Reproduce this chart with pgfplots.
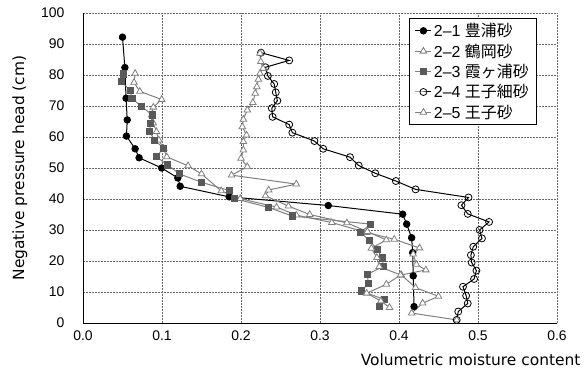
\documentclass[border=0pt]{standalone}
\usepackage{fontspec}
\setmainfont{Liberation Sans}
\newfontfamily\jp{Noto Sans CJK JP}
\newfontfamily\dv{DejaVu Sans}
\usepackage{pgfplots}
\pgfplotsset{compat=1.18}
\definecolor{sqgray}{HTML}{595959}
\definecolor{lngray}{HTML}{808080}
\begin{document}
\begin{tikzpicture}
\begin{axis}[
  scale only axis, width=474bp, height=310bp,
  xmin=0, xmax=0.6, ymin=0, ymax=100,
  xtick={0,0.1,0.2,0.3,0.4,0.5,0.6},
  ytick={0,10,20,30,40,50,60,70,80,90,100},
  axis lines*=left,
  axis line style={-, black, line width=1bp},
  major tick length=0pt,
  grid=major,
  major grid style={gray!80!black, line width=0.6bp, dash pattern=on 2bp off 1bp},
  /pgf/number format/assume math mode=true,
  tick label style={font=\fontsize{14}{16}\selectfont},
  x tick label style={/pgf/number format/fixed, /pgf/number format/fixed zerofill, /pgf/number format/precision=1, yshift=-4bp},
  y tick label style={xshift=-15bp},
  xlabel={Volumetric moisture content},
  ylabel={Negative pressure head (cm)},
  label style={font=\dv\fontsize{15.5}{17}\selectfont},
  xlabel style={at={(axis description cs:1.057,-0.117)}, anchor=east},
  ylabel style={at={(axis description cs:-0.133,0.5)}, anchor=center},
  legend style={at={(axis description cs:0.958,0.984)}, anchor=north east,
    draw=black, line width=0.8bp, fill=white,
    font=\fontsize{16}{19}\selectfont, row sep=1.5bp,
    inner xsep=6bp, inner ysep=3bp},
  legend cell align=left,
  legend image code/.code={\draw[mark repeat=2,mark phase=2] plot coordinates {(0bp,0bp)(8bp,0bp)(16bp,0bp)};},
]
% 2-1
\addplot[black, line width=1bp, mark=*, mark size=3.2bp, mark options={fill=black}] coordinates {
(0.050,92.2)(0.053,82.4)(0.0545,72.5)(0.056,65.5)(0.055,60.3)(0.066,56.2)(0.071,53.3)(0.0996,50.0)(0.12,46.8)(0.123,44.1)(0.185,40.7)(0.3105,37.9)(0.4046,35.1)(0.4097,31.9)(0.416,27.5)(0.4173,22.7)(0.418,15.2)(0.419,5.3)};
\addlegendentry{2--1 {\jp 豊浦砂}}
% 2-2
\addplot[lngray, line width=1bp, mark=triangle*, mark size=3.8bp, mark options={fill=white, draw=lngray, line width=0.8bp}] coordinates {
(0.066,80.5)(0.0646,77.6)(0.072,74.7)(0.0996,72.1)(0.089,69.6)(0.087,67.1)(0.089,64.5)(0.093,61.7)(0.096,59.0)(0.102,56.3)(0.106,53.6)(0.133,50.7)(0.150,48.1)(0.175,42.6)(0.199,40.1)(0.245,37.4)(0.270,34.8)(0.315,32.4)(0.359,29.2)(0.394,27.0)(0.426,24.2)(0.418,22.2)(0.422,18.9)(0.434,17.1)(0.403,15.5)(0.421,11.4)(0.45,8.6)(0.43,6.4)(0.416,3.2)(0.473,1.0)};
\addlegendentry{2--2 {\jp 鶴岡砂}}
% 2-3
\addplot[lngray, line width=1bp, mark=square*, mark size=3.1bp, mark options={fill=sqgray, draw=sqgray}] coordinates {
(0.051,80.3)(0.049,77.8)(0.060,74.9)(0.062,72.5)(0.074,69.8)(0.088,67.1)(0.0857,64.4)(0.084,61.7)(0.091,59.0)(0.1017,56.4)(0.093,53.6)(0.107,51.0)(0.122,48.1)(0.150,45.4)(0.185,42.7)(0.192,40.1)(0.235,37.3)(0.265,34.5)(0.364,31.9)(0.351,29.2)(0.3625,26.7)(0.3725,23.7)(0.379,21.0)(0.38,18.3)(0.36,15.7)(0.361,12.8)(0.353,10.3)(0.382,7.5)(0.375,5.2)};
\addlegendentry{2--3 {\jp 霞ヶ浦砂}}
% 2-4
\addplot[black, line width=1bp, mark=o, mark size=3.5bp, mark options={fill=white, draw=black, line width=0.8bp}] coordinates {
(0.2253,87.2)(0.261,84.7)(0.231,82.5)(0.234,79.7)(0.242,77.1)(0.244,74.4)(0.246,71.7)(0.239,69.3)(0.240,66.5)(0.261,64.0)(0.265,61.4)(0.293,58.7)(0.304,56.2)(0.338,53.5)(0.349,50.8)(0.37,48.3)(0.396,45.8)(0.421,43.1)(0.488,40.5)(0.479,38.0)(0.487,35.2)(0.514,32.6)(0.502,30.0)(0.505,27.3)(0.494,24.6)(0.491,21.9)(0.492,19.5)(0.498,16.9)(0.495,14.2)(0.481,11.7)(0.485,8.8)(0.487,6.3)(0.475,3.7)(0.473,1.0)};
\addlegendentry{2--4 {\jp 王子細砂}}
% 2-5
\addplot[lngray, line width=1bp, mark=triangle*, mark size=3.8bp, mark options={fill=white, draw=lngray, line width=0.8bp}] coordinates {
(0.224,87.0)(0.225,84.3)(0.228,82.1)(0.224,80.5)(0.222,78.6)(0.220,76.2)(0.218,74.1)(0.215,71.1)(0.208,68.7)(0.203,65.7)(0.2017,63.3)(0.207,60.6)(0.203,58.5)(0.203,55.8)(0.200,53.1)(0.208,50.4)(0.188,47.7)(0.270,44.8)(0.235,42.9)(0.231,41.0)(0.260,37.7)(0.287,35.0)(0.334,32.3)(0.360,29.5)(0.384,26.8)(0.365,24.1)(0.372,21.1)(0.375,18.2)(0.402,15.5)(0.384,12.5)(0.359,9.6)(0.377,7.1)(0.388,5.0)};
\addlegendentry{2--5 {\jp 王子砂}}
\end{axis}
\pgfresetboundingbox
\path[use as bounding box] ([shift={(-83bp,-53bp)}]current axis.south west) rectangle ([shift={(31bp,13bp)}]current axis.north east);
\end{tikzpicture}
\end{document}
